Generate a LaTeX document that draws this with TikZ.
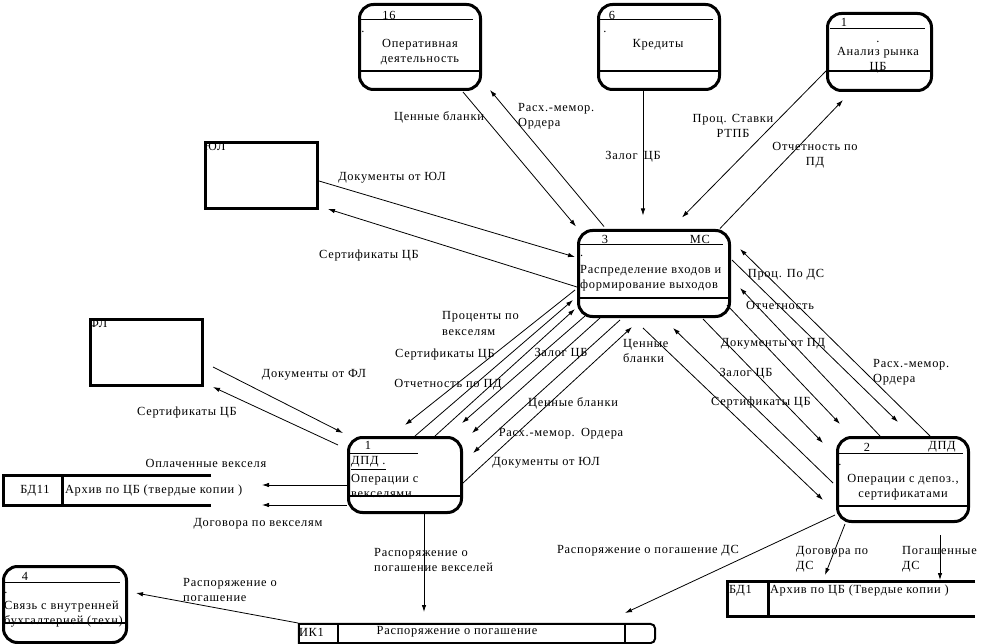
\documentclass[tikz,border=0pt]{standalone}
\usepackage{fontspec}
\setmainfont{Liberation Serif}[LetterSpace=6]
\usetikzlibrary{positioning,arrows.meta,calc}

\begin{document}
\begin{tikzpicture}[x=1pt,y=-1pt,>={Latex[length=7pt,width=4.5pt]},
  font=\fontsize{12.4}{15}\selectfont,
  proc/.style={draw,line width=3pt,rounded corners=14pt,inner sep=0pt},
  ext/.style={draw,line width=3pt,inner sep=0pt},
  hold/.style={inner sep=0pt},
  store/.style={line width=3pt},
  rule/.style={line width=1pt},
  sep/.style={line width=1.4pt},
  flow/.style={->,line width=.8pt},
  txt/.style={inner sep=0pt},
  lbl/.style={inner sep=0pt,align=left}]
 \useasboundingbox (0,0) rectangle (998,644);

 % processes
 \node[proc,minimum width=121pt,minimum height=85pt] (p16) at (420,47) {};
 \node[proc,minimum width=121pt,minimum height=85pt] (p6) at (659,47) {};
 \node[proc,minimum width=104pt,minimum height=77pt] (pa) at (879.5,52) {};
 \node[proc,minimum width=151pt,minimum height=86pt] (p3) at (654,273.5) {};
 \node[proc,minimum width=113pt,minimum height=75pt] (p1) at (405,475) {};
 \node[proc,minimum width=131pt,minimum height=84pt] (p2) at (903,479.5) {};
 \node[proc,minimum width=123pt,minimum height=76pt] (p4) at (65,604.5) {};

 \draw[rule] ($(p16)+(-59,-27)$) -- ($(p16)+(53,-27)$);
 \draw[sep] ($(p16.west)+(0,24)$) -- ($(p16.east)+(0,24)$);
 \node[txt] (n16) at ($(p16)+(-31,-32)$) {16};
 \node[txt] (d16) at ($(p16)+(-57,-15)$) {.};
 \node[txt,align=center] (t16) at ($(p16)+(0,5.5)$) {Оперативная\\деятельность};

 \draw[rule] ($(p6)+(-59,-27)$) -- ($(p6)+(54,-27)$);
 \draw[sep] ($(p6.west)+(0,24)$) -- ($(p6.east)+(0,24)$);
 \node[txt] (n6) at ($(p6)+(-47,-32)$) {6};
 \node[txt] (d6) at ($(p6)+(-54,-15)$) {.};
 \node[txt] (t6) at ($(p6)+(-1,-2)$) {Кредиты};

 \draw[rule] ($(pa)+(-49.5,-23)$) -- ($(pa)+(45.5,-23)$);
 \draw[sep] ($(pa.west)+(0,19)$) -- ($(pa.east)+(0,19)$);
 \node[txt] (na) at ($(pa)+(-35.5,-30)$) {1};
 \node[txt] (da) at ($(pa)+(-1.5,-10)$) {.};
 \node[txt,align=center] (ta) at ($(pa)+(-1.5,8.5)$) {Анализ рынка\\ЦБ};

 \draw[rule] ($(p3)+(-74,-28.5)$) -- ($(p3)+(69,-28.5)$);
 \draw[sep] ($(p3.west)+(0,24.5)$) -- ($(p3.east)+(0,24.5)$);
 \node[txt] (n3) at ($(p3)+(-49,-34.5)$) {3};
 \node[txt] (m3) at ($(p3)+(46,-34.5)$) {МС};
 \node[txt,anchor=west] (d3) at ($(p3)+(-74,-17.5)$) {.};
 \node[txt,align=left,anchor=west] (t3) at ($(p3)+(-74,5)$)
   {Распределение входов и\\формирование выходов};

 \draw[rule] ($(p1)+(-55,-22)$) -- ($(p1)+(13,-22)$);
 \draw[sep] ($(p1.west)+(0,21)$) -- ($(p1.east)+(0,21)$);
 \node[txt] (n1) at ($(p1)+(-37,-30)$) {1};
 \node[txt,anchor=west] (u1) at ($(p1)+(-54,-12)$) {\underline{ДПД .}};
 \node[txt,align=left,anchor=west] (t1) at ($(p1)+(-54,11)$)
   {Операции с\\векселями};

 \draw[rule] ($(p2)+(-65,-26.5)$) -- ($(p2)+(60,-26.5)$);
 \draw[sep] ($(p2.west)+(0,26.5)$) -- ($(p2.east)+(0,26.5)$);
 \node[txt] (n2) at ($(p2)+(-36,-32.5)$) {2};
 \node[txt] (m2) at ($(p2)+(39,-32.5)$) {ДПД};
 \node[txt] (d2) at ($(p2)+(-63,-14.5)$) {.};
 \node[txt,align=center] (t2) at ($(p2)+(0,7.5)$)
   {Операции с депоз.,\\сертификатами};

 \draw[rule] ($(p4)+(-61,-22.5)$) -- ($(p4)+(55,-22.5)$);
 \draw[sep] ($(p4.west)+(0,18.5)$) -- ($(p4.east)+(0,18.5)$);
 \node[txt] (n4) at ($(p4)+(-40,-28.5)$) {4};
 \node[txt] (d4) at ($(p4)+(-59,-11.5)$) {.};
 \node[txt,align=left,anchor=west] (t4) at ($(p4)+(-61,9.5)$)
   {Связь с внутренней\\бухгалтерией (техн)};

 % externals
 \node[ext,minimum width=112pt,minimum height=66pt] (ul) at (261.5,175.5) {};
 \node[txt,anchor=north west] (tul) at ($(ul.north west)+(0,1)$) {ЮЛ};
 \node[ext,minimum width=112pt,minimum height=66pt] (fl) at (146.5,352.5) {};
 \node[txt,anchor=north west] (tfl) at ($(fl.north west)+(0,1)$) {ФЛ};

 % stores
 \node[hold,minimum width=207pt,minimum height=29pt] (bd11) at (107.5,490.5) {};
 \draw[store] (bd11.north east) -- (bd11.north west) -- (bd11.south west)
   -- (bd11.south east);
 \draw[store] ($(bd11.north west)+(59,0)$) -- ($(bd11.south west)+(59,0)$);
 \node[txt] (k11) at ($(bd11)+(-72.5,0.5)$) {БД11};
 \node[txt,anchor=west] (a11) at ($(bd11.west)+(61,0.5)$)
   {Архив по ЦБ (твердые копии )};

 \node[hold,minimum width=247pt,minimum height=34pt] (bd1) at (851.5,599) {};
 \draw[store] (bd1.north east) -- (bd1.north west) -- (bd1.south west)
   -- (bd1.south east);
 \draw[store] ($(bd1.north west)+(41,0)$) -- ($(bd1.south west)+(41,0)$);
 \node[txt,anchor=west] (k1) at ($(bd1.west)+(1,-8)$) {БД1};
 \node[txt,anchor=west] (a1) at ($(bd1.west)+(42,-8)$)
   {Архив по ЦБ (Твердые копии )};

 \node[hold,minimum width=356pt,minimum height=19pt] (ik1) at (477,633.5) {};
 \draw[store,line width=2pt] (ik1.south west) -- (ik1.north west)
   {[rounded corners=5pt] -- (ik1.north east) -- (ik1.south east)} -- cycle;
 \draw[store,line width=2pt] ($(ik1.north west)+(39,0)$) -- ($(ik1.south west)+(39,0)$);
 \draw[store,line width=2pt] ($(ik1.north west)+(326,0)$) -- ($(ik1.south west)+(326,0)$);
 \node[txt,anchor=west] (ki) at ($(ik1.west)+(0,-1.5)$) {ИК1};
 \node[txt] (ai) at ($(ik1)+(-20,-1.5)$) {Распоряжение о погашение};

 % flows at the top
 \draw[flow] ($(p16)+(43,45)$) -- ($(p3)+(-78,-47)$);
 \draw[flow] ($(p3)+(-50,-47)$) -- ($(p16)+(70,43)$);
 \draw[flow] ($(p6)+(-16,44)$) -- ($(p3)+(-11,-58)$);
 \draw[flow] ($(pa)+(-53.5,19)$) -- ($(p3)+(28,-56)$);
 \draw[flow] ($(p3)+(66,-45)$) -- ($(pa)+(-36.5,48)$);
 \draw[flow] ($(ul)+(57.5,5.5)$) -- ($(p3)+(-79,-16.5)$);
 \draw[flow] ($(p3)+(-77,13.5)$) -- ($(ul)+(66.5,33.5)$);
 \node[txt] (l1) at (439,117) {Ценные бланки};
 \node[lbl,anchor=west] (l2) at (518,116) {Расх.-мемор.\\Ордера};
 \node[txt] (l3) at (633,157) {Залог\enspace ЦБ};
 \node[txt,align=center] (l4) at (733,125.5) {Проц. Ставки\\РТПБ};
 \node[txt,align=center] (l5) at (815,155) {Отчетность по\\ПД};
 \node[txt] (l6) at (392,178) {Документы от ЮЛ};
 \node[txt] (l7) at (369,256) {Сертификаты ЦБ};

 % flows between 3 and 1
 \draw[flow] ($(p3)+(-79,16.5)$) -- ($(p1)+(0,-50)$);
 \draw[flow] ($(p1)+(10,-39)$) -- ($(p3)+(-81,26.5)$);
 \draw[flow] ($(p1)+(30,-39)$) -- ($(p3)+(-79,35.5)$);
 \draw[flow] ($(p3)+(-69,42.5)$) -- ($(p1)+(57,-52)$);
 \draw[flow] ($(p3)+(-54,44.5)$) -- ($(p1)+(67,-42)$);
 \draw[flow] ($(p3)+(-34,46.5)$) -- ($(p1)+(68,-22)$);
 \draw[flow] ($(p1)+(58,8)$) -- ($(p3)+(-22,53.5)$);
 \node[lbl,anchor=west] (l8) at (442,323.5) {Проценты по\\векселям};
 \node[txt] (l9) at (445,355) {Сертификаты ЦБ};
 \node[txt] (l10) at (448,385) {Отчетность по ПД};
 \node[txt] (l11) at (561,354) {Залог ЦБ};
 \node[txt] (l12) at (573,403) {Ценные бланки};
 \node[txt] (l13) at (561,434) {Расх.-мемор.\enspace Ордера};
 \node[txt] (l14) at (546,463) {Документы от ЮЛ};
 \node[lbl,anchor=west] (l15) at (623,351) {Ценные\\бланки};

 % flows between 3 and 2
 \draw[flow] ($(p2)+(27,-43.5)$) -- ($(p3)+(86,-24.5)$);
 \draw[flow] ($(p3)+(78,-13.5)$) -- ($(p2)+(-5,-57.5)$);
 \draw[flow] ($(p2)+(-23,-43.5)$) -- ($(p3)+(86,14.5)$);
 \draw[flow] ($(p3)+(73,31.5)$) -- ($(p2)+(-63,-55.5)$);
 \draw[flow] ($(p3)+(49,45.5)$) -- ($(p2)+(-80,-36.5)$);
 \draw[flow] ($(p2)+(-70,3.5)$) -- ($(p3)+(19,54.5)$);
 \draw[flow] ($(p3)+(-11,54.5)$) -- ($(p2)+(-80,20.5)$);
 \node[txt] (l16) at (786,275) {Проц. По ДС};
 \node[txt] (l17) at (780,305) {Отчетность};
 \node[txt] (l18) at (773,344) {Документы от ПД};
 \node[txt] (l19) at (746,374) {Залог ЦБ};
 \node[txt] (l20) at (761,403) {Сертификаты ЦБ};
 \node[lbl,anchor=west] (l21) at (873,372) {Расх.-мемор.\\Ордера};

 % flows with ФЛ and the stores
 \draw[flow] ($(fl)+(66.5,14.5)$) -- ($(p1)+(-62,-42)$);
 \draw[flow] ($(p1)+(-67,-30)$) -- ($(fl)+(66.5,34.5)$);
 \draw[flow] ($(p1)+(-58,10)$) -- ($(bd11)+(154.5,-5.5)$);
 \draw[flow] ($(p1)+(-58,30)$) -- ($(bd11)+(154.5,14.5)$);
 \node[txt] (l22) at (314,375) {Документы от ФЛ};
 \node[txt] (l23) at (187,413) {Сертификаты ЦБ};
 \node[txt] (l24) at (206,463) {Оплаченные векселя};
 \node[txt] (l25) at (258,524) {Договора по векселям};

 % flows at the bottom
 \draw[flow] ($(p1)+(19,39)$) -- ($(ik1)+(-53,-21.5)$);
 \draw[flow] ($(p2)+(-68,35.5)$) -- ($(ik1)+(148,-20.5)$);
 \draw[flow] ($(ik1)+(-179,-10.5)$) -- ($(p4)+(71,-11.5)$);
 \draw[flow] ($(p2)+(-58,44.5)$) -- ($(bd1)+(-26.5,-24)$);
 \draw[flow] ($(p2)+(37,55.5)$) -- ($(bd1)+(88.5,-19)$);
 \node[lbl,anchor=west] (l26) at (374,559.5) {Распоряжение о\\погашение векселей};
 \node[txt] (l27) at (648,551) {Распоряжение о погашение ДС};
 \node[lbl,anchor=west] (l28) at (183,589.5) {Распоряжение о\\погашение};
 \node[lbl,anchor=west] (l29) at (796,559.5) {Договора по\\ДС};
 \node[lbl,anchor=west] (l30) at (902,559.5) {Погашенные\\ДС};
\end{tikzpicture}
\end{document}
